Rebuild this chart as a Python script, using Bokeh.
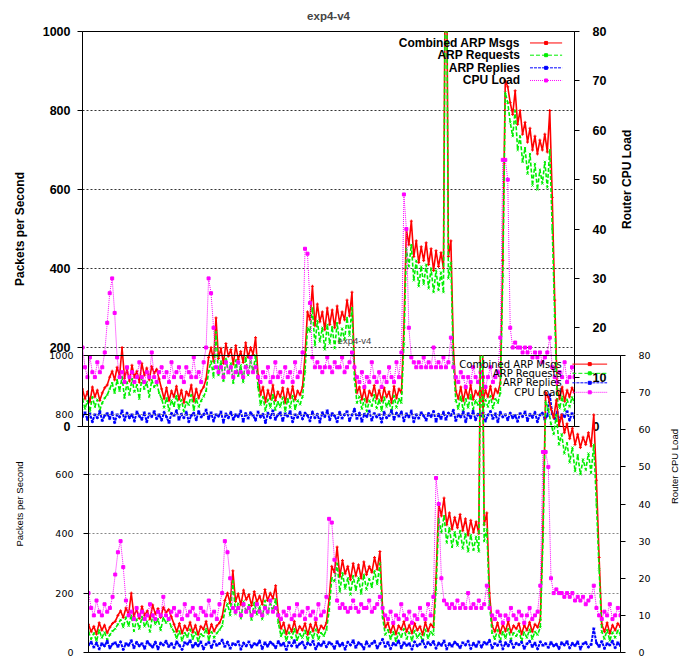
import math
from bokeh.plotting import figure
from bokeh.models import Range1d, LinearAxis, FixedTicker, Label, Arrow
from bokeh.layouts import column
from bokeh.embed import file_html
from bokeh.resources import INLINE

# ---------------- data ----------------
sample_idx = list(range(200))

combined_arp = [
    95, 70, 88, 62, 100, 75, 92, 66, 85, 98,
    105, 125, 140, 118, 150, 128, 200, 122, 145, 115,
    155, 125, 140, 112, 160, 130, 148, 118, 152, 135,
    145, 120, 95, 70, 98, 65, 90, 75, 102, 68,
    92, 60, 88, 78, 105, 64, 95, 72, 90, 100,
    120, 175, 200, 165, 275, 172, 198, 160, 210, 178,
    195, 158, 205, 170, 190, 162, 212, 175, 200, 182,
    225, 130, 80, 100, 62, 92, 70, 105, 66, 88,
    75, 98, 60, 95, 72, 102, 68, 90, 80, 100,
    180, 290, 270, 355, 255, 310, 265, 290, 245, 300,
    258, 295, 250, 305, 262, 290, 270, 320, 280, 340,
    150, 85, 100, 68, 95, 62, 90, 78, 104, 70,
    92, 65, 98, 75, 88, 60, 102, 72, 95, 85,
    250, 500, 460, 520, 430, 470, 415, 455, 420, 465,
    410, 450, 395, 445, 405, 440, 400, 1500, 430, 470,
    200, 90, 70, 100, 65, 95, 72, 105, 68, 90,
    80, 98, 62, 92, 75, 102, 70, 95, 85, 110,
    420, 875, 860, 820, 790, 850, 765, 800, 740, 770,
    720, 755, 700, 735, 690, 725, 700, 740, 695, 800,
    580, 320, 95, 70, 100, 64, 92, 75, 98, 85,
]

arp_requests = [
    70, 45, 65, 38, 75, 50, 68, 42, 60, 72,
    80, 95, 110, 85, 118, 90, 125, 72, 112, 80,
    120, 88, 105, 70, 125, 95, 112, 75, 118, 100,
    110, 85, 70, 48, 72, 40, 66, 52, 78, 45,
    68, 38, 62, 55, 80, 42, 70, 50, 65, 76,
    90, 140, 165, 125, 240, 130, 165, 115, 172, 135,
    160, 110, 168, 128, 155, 112, 175, 130, 165, 140,
    180, 100, 55, 75, 40, 68, 48, 80, 42, 62,
    50, 74, 38, 70, 48, 78, 44, 66, 56, 76,
    140, 250, 240, 300, 205, 268, 215, 250, 195, 258,
    210, 252, 198, 262, 212, 248, 220, 275, 230, 300,
    120, 60, 76, 45, 70, 38, 66, 52, 80, 46,
    68, 40, 74, 50, 64, 36, 78, 48, 70, 60,
    210, 450, 405, 460, 370, 420, 355, 405, 360, 410,
    350, 400, 340, 395, 345, 390, 340, 1480, 375, 415,
    160, 66, 45, 76, 40, 70, 48, 80, 44, 66,
    55, 74, 38, 68, 50, 78, 46, 70, 60, 85,
    380, 845, 820, 770, 735, 800, 700, 735, 670, 705,
    640, 690, 610, 665, 600, 650, 615, 670, 605, 700,
    500, 280, 70, 46, 76, 40, 68, 50, 74, 60,
]

arp_replies = [
    25, 35, 18, 32, 12, 30, 22, 38, 15, 28, 33, 20, 36, 10, 30, 24, 40, 16, 34, 22,
    30, 14, 37, 26, 18, 35, 12, 32, 25, 38, 20, 30, 16, 36, 24, 10, 33, 28, 40, 18,
    31, 22, 36, 12, 28, 34, 17, 38, 24, 30, 42, 20, 35, 14, 30, 26, 37, 11, 32, 22,
    36, 18, 30, 25, 39, 13, 33, 21, 35, 28, 16, 37, 24, 31, 10, 34, 22, 40, 18, 29,
    35, 15, 32, 26, 38, 12, 30, 23, 36, 19, 34, 28, 14, 37, 22, 31, 11, 35, 25, 40,
    17, 33, 27, 12, 36, 21, 30, 38, 15, 29, 44, 20, 34, 13, 31, 25, 39, 16, 33, 24,
    30, 11, 36, 22, 28, 40, 18, 34, 26, 37, 14, 32, 24, 39, 12, 30, 21, 35, 27, 16,
    33, 25, 38, 13, 31, 20, 36, 18, 34, 28, 41, 15, 30, 24, 37, 12, 33, 22, 39, 17,
    31, 26, 35, 14, 29, 38, 20, 32, 12, 36, 24, 30, 17, 34, 22, 28, 13, 33, 25, 37,
    15, 31, 23, 36, 12, 29, 34, 18, 27, 80, 32, 20, 37, 14, 30, 25, 38, 16, 33, 22,
]

cpu_load = [
    16, 12, 10, 14, 11, 10, 13, 11, 12, 15,
    21, 27, 30, 23, 14, 10, 11, 9, 12, 10,
    11, 9, 10, 13, 10, 9, 11, 10, 15, 10,
    9, 11, 12, 10, 11, 9, 13, 10, 11, 12,
    10, 9, 12, 11, 10, 14, 10, 11, 9, 13,
    16, 30, 27, 20, 12, 11, 12, 10, 13, 11,
    12, 10, 11, 13, 11, 10, 12, 11, 14, 11,
    12, 10, 9, 11, 10, 12, 9, 10, 13, 10,
    11, 9, 12, 10, 11, 9, 13, 10, 11, 15,
    36, 35, 25, 14, 12, 13, 12, 11, 12, 14,
    12, 11, 13, 12, 12, 14, 11, 12, 13, 15,
    12, 10, 9, 11, 8, 10, 9, 13, 10, 9,
    11, 8, 10, 9, 12, 10, 9, 13, 10, 15,
    47, 40, 20, 14, 13, 12, 13, 12, 14, 12,
    13, 12, 16, 12, 13, 12, 14, 12, 13, 18,
    12, 10, 9, 11, 10, 8, 10, 9, 12, 10,
    9, 11, 10, 8, 10, 12, 9, 10, 11, 18,
    54, 54, 50, 20, 16, 17, 16, 16, 15, 16,
    15, 16, 14, 15, 14, 15, 13, 14, 15, 18,
    12, 10, 9, 11, 10, 13, 9, 10, 12, 10,
]

chart_title = "exp4-v4"
left_label = "Packets per Second"
right_label = "Router CPU Load"
left_ticks = [0, 200, 400, 600, 800, 1000]
right_ticks = [0, 10, 20, 30, 40, 50, 60, 70, 80]
series_names = ["Combined ARP Msgs", "ARP Requests", "ARP Replies", "CPU Load"]

# ---------------- styling ----------------
series = [
    (combined_arp, "#ff0000", "solid", "cross", "default", 1.6),
    (arp_requests, "#00ee00", "4 2", "x", "default", 1.6),
    (arp_replies, "#0000ff", "3 1", "asterisk", "default", 2.0),
    (cpu_load, "#ff00ff", "1 1", "square", "cpu", 1.0),
]


def make_chart(cfg):
    p = figure(width=cfg["w"], height=cfg["h"], output_backend="svg",
               toolbar_location=None,
               x_range=Range1d(0, len(sample_idx) - 1), y_range=Range1d(0, 1000),
               min_border_left=cfg["mbl"], min_border_right=cfg["mbr"],
               min_border_top=cfg["mbt"], min_border_bottom=cfg["mbb"])
    p.extra_y_ranges = {"cpu": Range1d(0, 80)}
    p.background_fill_color = cfg["bg"]
    p.border_fill_color = cfg["bg"]
    p.outline_line_color = "black"
    p.outline_line_width = 1
    p.outline_line_alpha = 1

    p.title.text = chart_title
    p.title.align = "center"
    p.title.text_font = cfg["font"]
    p.title.text_font_size = cfg["title_size"]
    p.title.text_font_style = cfg["weight"]
    p.title.standoff = cfg["title_standoff"]
    p.title.vertical_align = cfg["title_valign"]

    p.xaxis.visible = False
    p.xgrid.visible = False
    p.ygrid.ticker = FixedTicker(ticks=left_ticks)
    p.ygrid.grid_line_color = cfg["grid"]
    p.ygrid.grid_line_dash = "2 2"
    p.ygrid.grid_line_width = 1

    ya = p.yaxis[0]
    ya.ticker = FixedTicker(ticks=left_ticks)
    ya.axis_label = left_label
    ra = LinearAxis(y_range_name="cpu", ticker=FixedTicker(ticks=right_ticks),
                    axis_label=right_label)
    p.add_layout(ra, "right")
    for ax, st, ast in ((ya, cfg["l_std"], cfg["l_astd"]), (ra, cfg["r_std"], cfg["r_astd"])):
        ax.major_tick_out = cfg["tick"]
        ax.major_tick_in = 0
        ax.minor_tick_out = 0
        ax.minor_tick_in = 0
        ax.axis_line_color = "black"
        ax.major_tick_line_color = "black"
        ax.major_label_standoff = st
        ax.axis_label_standoff = ast
        ax.major_label_text_font = cfg["tick_font"]
        ax.major_label_text_font_size = cfg["tick_size"]
        ax.major_label_text_font_style = cfg["weight"]
        ax.major_label_text_color = "black"
        ax.axis_label_text_font = cfg["font"]
        ax.axis_label_text_font_size = cfg["alabel_size"]
        ax.axis_label_text_font_style = cfg["weight"]
        ax.axis_label_text_color = "black"
    ra.axis_label_orientation = math.pi / 2

    for vals, color, dash, marker, rng, lw in series:
        p.line(sample_idx, vals, line_color=color, line_width=lw, line_dash=dash,
               y_range_name=rng)
        p.scatter(sample_idx, vals, marker=marker, size=3,
                  line_color=color, fill_color=color, line_width=1, y_range_name=rng)

    # legend (gnuplot style: label on the left, sample on the right)
    rows = [971, 940, 908, 876]
    for (vals, color, dash, marker, rng, lw), name, yy in zip(series, series_names, rows):
        p.add_layout(Label(x=177, y=yy, text=name, text_align="right",
                           text_baseline="middle", text_font=cfg["legend_font"],
                           text_font_size=cfg["legend_size"],
                           text_font_style=cfg["weight"], text_color="black"))
        p.add_layout(Arrow(end=None, x_start=181, y_start=yy, x_end=194, y_end=yy,
                           line_color=color, line_dash=dash, line_width=1))
    p.scatter([187.5] * 4, rows, marker="square", size=3,
              color=[s[1] for s in series])
    return p


# both charts share the same border sizes (the column lines their frames up);
# the second one is shifted with margins instead.
cfg1 = dict(w=644, h=434, mbl=82, mbr=60, mbt=31, mbb=8, bg="white",
            font="Liberation Sans", tick_font="Liberation Sans", weight="bold",
            title_size="11.5px", title_standoff=15, title_valign="top",
            grid="#333333", tick=5, l_std=7, l_astd=13, r_std=13, r_astd=18,
            tick_size="12.5px", alabel_size="12px",
            legend_font="Liberation Sans", legend_size="12px")
cfg2 = dict(w=684, h=335, mbl=82, mbr=60, mbt=32, mbb=6, bg=None,
            font="Liberation Sans", tick_font="DejaVu Sans", weight="normal",
            title_size="9.5px", title_standoff=19, title_valign="bottom",
            grid="#888888", tick=5, l_std=10, l_astd=21, r_std=13, r_astd=21,
            tick_size="9.5px", alabel_size="9.5px",
            legend_font="DejaVu Sans", legend_size="10px")

p1 = make_chart(cfg1)
p2 = make_chart(cfg2)
p1.margin = (0, 46, 0, 0)
p2.margin = (-111, 0, 0, 6)

layout = column(p1, p2)
open("out.html", "w").write(file_html(layout, INLINE))
